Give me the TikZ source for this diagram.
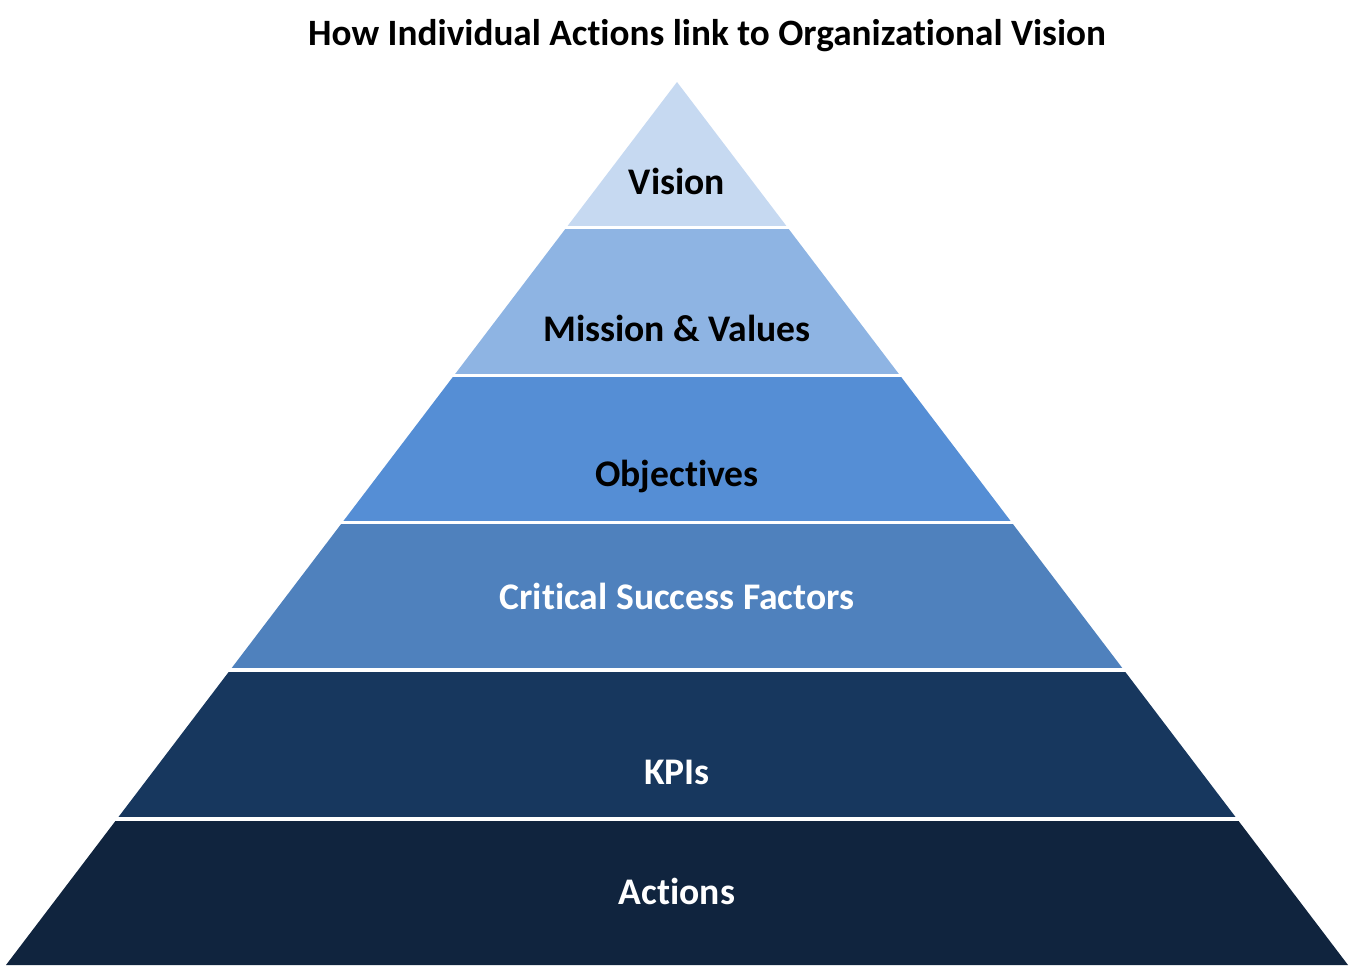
\documentclass[tikz,border=0pt]{standalone}
\usepackage{fontspec}
\setmainfont{Carlito}[Ligatures=NoCommon]
\usetikzlibrary{calc}
\definecolor{visioncol}{HTML}{C6D9F1}
\definecolor{missioncol}{HTML}{8EB4E3}
\definecolor{objectcol}{HTML}{558ED5}
\definecolor{csfcol}{HTML}{4F81BD}
\definecolor{kpicol}{HTML}{17375E}
\definecolor{actioncol}{HTML}{10243E}
\begin{document}
\begin{tikzpicture}[x=0.5pt, y=-0.5pt]
      \tikzstyle{gapline} = [white, line width=1.8pt]
      \tikzstyle{dlabel} = [font=\bfseries\fontsize{18.8}{22}\selectfont, text=black, inner sep=0pt]
      \tikzstyle{llabel} = [dlabel, text=white]
      \tikzstyle{tlabel} = [font=\bfseries\fontsize{18.6}{22}\selectfont, inner sep=0pt]

      \useasboundingbox (0,0) rectangle (1354,969);
      \coordinate (apex) at (677,82);
      \coordinate (bl) at (6,965);
      \coordinate (br) at (1348,965);

      % pyramid layers
      \foreach \ya/\yb/\col in {82/227.5/visioncol, 227.5/375.5/missioncol,
        375.5/522.5/objectcol, 522.5/670/csfcol, 670/819/kpicol, 819/965/actioncol}
      {
        \fill[\col] ($(apex)!{(\ya-82)/883}!(bl)$) -- ($(apex)!{(\yb-82)/883}!(bl)$)
          -- ($(apex)!{(\yb-82)/883}!(br)$) -- ($(apex)!{(\ya-82)/883}!(br)$) -- cycle;
      }
      \foreach \y in {227.5, 375.5, 522.5, 670, 819}
        \draw[gapline] (0,\y) -- (1354,\y);

      \node[tlabel] (title) at (707,36) {How Individual Actions link to Organizational Vision};

      \node[dlabel] (vision) at (677,181) {Vision};
      \node[dlabel] (mission) at (677,328) {Mission \& Values};
      \node[dlabel] (objectives) at (677,476) {Objectives};
      \node[llabel] (csf) at (677,596) {Critical Success Factors};
      \node[llabel] (kpis) at (677,772) {KPIs};
      \node[llabel] (actions) at (677,891) {Actions};
\end{tikzpicture}
\end{document}
